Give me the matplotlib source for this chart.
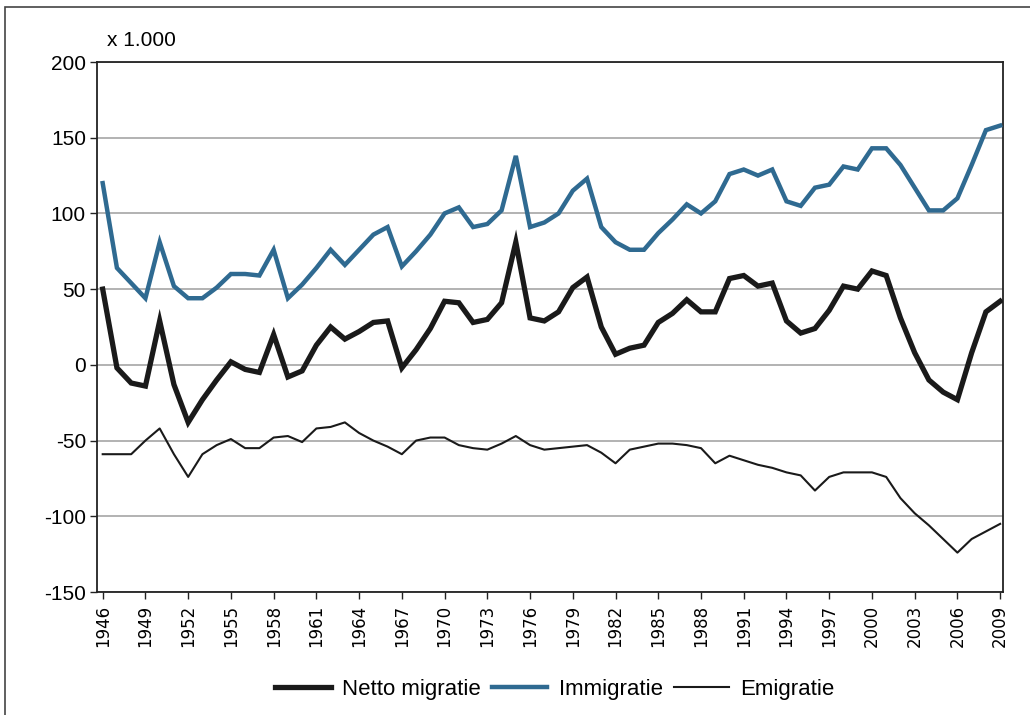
import matplotlib
matplotlib.use("Agg")
import matplotlib.pyplot as plt
from matplotlib.patches import Rectangle

years = list(range(1946, 2010))

immigratie = [120, 64, 54, 44, 81, 52, 44, 44, 51, 60, 60, 59, 76, 44, 53, 64, 76, 66, 76, 86,
              91, 65, 75, 86, 100, 104, 91, 93, 102, 138, 91, 94, 100, 115, 123, 91, 81, 76, 76, 87,
              96, 106, 100, 108, 126, 129, 125, 129, 108, 105, 117, 119, 131, 129, 143, 143, 132, 117,
              102, 102, 110, 132, 155, 158]

netto = [50, -2, -12, -14, 29, -13, -38, -23, -10, 2, -3, -5, 20, -8, -4, 13, 25, 17, 22, 28,
         29, -2, 10, 24, 42, 41, 28, 30, 41, 81, 31, 29, 35, 51, 58, 25, 7, 11, 13, 28,
         34, 43, 35, 35, 57, 59, 52, 54, 29, 21, 24, 36, 52, 50, 62, 59, 31, 8, -10, -18,
         -23, 8, 35, 42]

emigratie = [-59, -59, -59, -50, -42, -59, -74, -59, -53, -49, -55, -55, -48, -47, -51, -42, -41,
             -38, -45, -50, -54, -59, -50, -48, -48, -53, -55, -56, -52, -47, -53, -56, -55, -54,
             -53, -58, -65, -56, -54, -52, -52, -53, -55, -65, -60, -63, -66, -68, -71, -73, -83,
             -74, -71, -71, -71, -74, -88, -98, -106, -115, -124, -115, -110, -105]

y_ticks = [200, 150, 100, 50, 0, -50, -100, -150]
y_tick_labels = ["200", "150", "100", "50", "0", "-50", "-100", "-150"]
x_ticks = list(range(1946, 2010, 3))
series_names = ["Netto migratie", "Immigratie", "Emigratie"]

FONT = ['Liberation Sans Narrow', 'Liberation Sans', 'DejaVu Sans']
BLUE = '#2f6a91'

fig = plt.figure(figsize=(10.3, 7.15), dpi=100)
ax = fig.add_axes([97/1030, 1-592/715, 906/1030, 530/715])

for y in y_ticks:
    ax.axhline(y, color='#a6a6a6', lw=1.2, zorder=1)

ax.plot(years, netto, color='#1a1a1a', lw=3.8, solid_joinstyle='miter', label=series_names[0], zorder=3)
ax.plot(years, immigratie, color=BLUE, lw=3.2, solid_joinstyle='miter', label=series_names[1], zorder=3)
ax.plot(years, emigratie, color='#1a1a1a', lw=1.5, label=series_names[2], zorder=3)

ax.set_xlim(1945.6, 2009.2)
ax.set_ylim(-150, 200)
ax.set_yticks(y_ticks)
ax.set_yticklabels(y_tick_labels, family=FONT, fontsize=15)
ax.set_xticks(x_ticks)
ax.set_xticklabels([str(x) for x in x_ticks], rotation=90, family=['DejaVu Sans'], fontsize=12)
ax.tick_params(axis='both', direction='out', length=5, width=1, color='#222222')
ax.tick_params(axis='y', pad=3)
ax.tick_params(axis='x', pad=4)
for s in ax.spines.values():
    s.set_linewidth(1.3)
    s.set_color('#222222')

fig.text(107/1030, 1-40/715, "x 1.000", family=FONT, fontsize=15, va='center', ha='left')

leg = fig.legend(loc='center', bbox_to_anchor=(555/1030, 1-689/715), ncol=3, frameon=False,
                 prop={'family': FONT, 'size': 16}, handlelength=2.5, handletextpad=0.5,
                 columnspacing=0.5)

fig.patches.append(Rectangle((5/1030, -0.1), 1.2, 1-7/715+0.1, transform=fig.transFigure,
                             fill=False, edgecolor='#444444', lw=1.2))

fig.savefig("out.png", dpi=100)
